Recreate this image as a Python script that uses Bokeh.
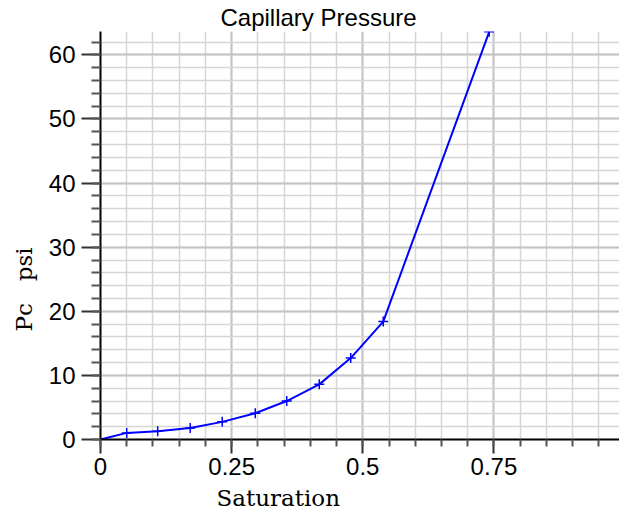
from bokeh.plotting import figure
from bokeh.models import SingleIntervalTicker, Range1d, Title
from bokeh.embed import file_html
from bokeh.resources import INLINE

# data
saturation = [0.0, 0.050, 0.109, 0.171, 0.232, 0.295, 0.355, 0.417, 0.477, 0.539, 0.741]
pc_psi = [0.0, 1.03, 1.3, 1.8, 2.75, 4.1, 6.0, 8.6, 12.7, 18.4, 63.6]
marker_sat = saturation[1:]
marker_pc = pc_psi[1:]

title_text = "Capillary Pressure"
x_label = "Saturation"
y_label = "Pc\u00a0\u00a0\u00a0psi"

p = figure(width=619, height=516, output_backend="svg", toolbar_location=None,
           x_range=Range1d(0, 0.9894), y_range=Range1d(0, 63.65),
           min_border_left=99, min_border_right=0, min_border_top=0, min_border_bottom=76)
p.outline_line_color = None
p.background_fill_color = "white"
p.border_fill_color = "white"

# title
p.title.text = title_text
p.title.align = "left"
p.title.offset = 120
p.title.text_font = "Liberation Sans"
p.title.text_font_size = "24px"
p.title.text_font_style = "normal"
p.title.text_color = "black"
p.title.standoff = 2

xt = SingleIntervalTicker(interval=0.25, num_minor_ticks=5)
yt = SingleIntervalTicker(interval=10, num_minor_ticks=5)
p.xaxis.ticker = xt
p.yaxis.ticker = yt

for ax in (p.xaxis, p.yaxis):
    ax.axis_line_color = "black"
    ax.axis_line_width = 2
    ax.major_tick_line_color = "#333333"
    ax.major_tick_line_width = 2
    ax.minor_tick_line_color = "#555555"
    ax.minor_tick_line_width = 2
    ax.major_tick_in = 0
    ax.minor_tick_in = 0
    ax.major_label_text_font = "Liberation Sans"
    ax.major_label_text_font_size = "24px"
    ax.major_label_text_color = "black"

p.xaxis.major_tick_out = 14
p.xaxis.minor_tick_out = 7
p.xaxis.major_label_standoff = 4
p.yaxis.major_tick_out = 19
p.yaxis.minor_tick_out = 9
p.yaxis.major_label_standoff = 6

# grids
p.xgrid.ticker = xt
p.ygrid.ticker = yt
for g in (p.xgrid, p.ygrid):
    g.grid_line_color = "#c4c4c4"
    g.grid_line_width = 2
    g.minor_grid_line_color = "#d6d6d6"
    g.minor_grid_line_width = 1.5

# axis labels as titles to allow offset positioning
p.add_layout(Title(text=x_label, align="left", offset=116, text_font="DejaVu Serif",
                   text_font_size="23px", text_font_style="normal", text_color="black",
                   standoff=11), "below")
p.add_layout(Title(text=y_label, align="left", offset=108, text_font="DejaVu Serif",
                   text_font_size="23px", text_font_style="normal", text_color="black",
                   standoff=17), "left")

p.line(saturation, pc_psi, line_color="#0000ff", line_width=2)
p.scatter(marker_sat, marker_pc, marker="cross", size=10, line_color="#0000ff", line_width=1.5)

open("out.html", "w").write(file_html(p, INLINE))
